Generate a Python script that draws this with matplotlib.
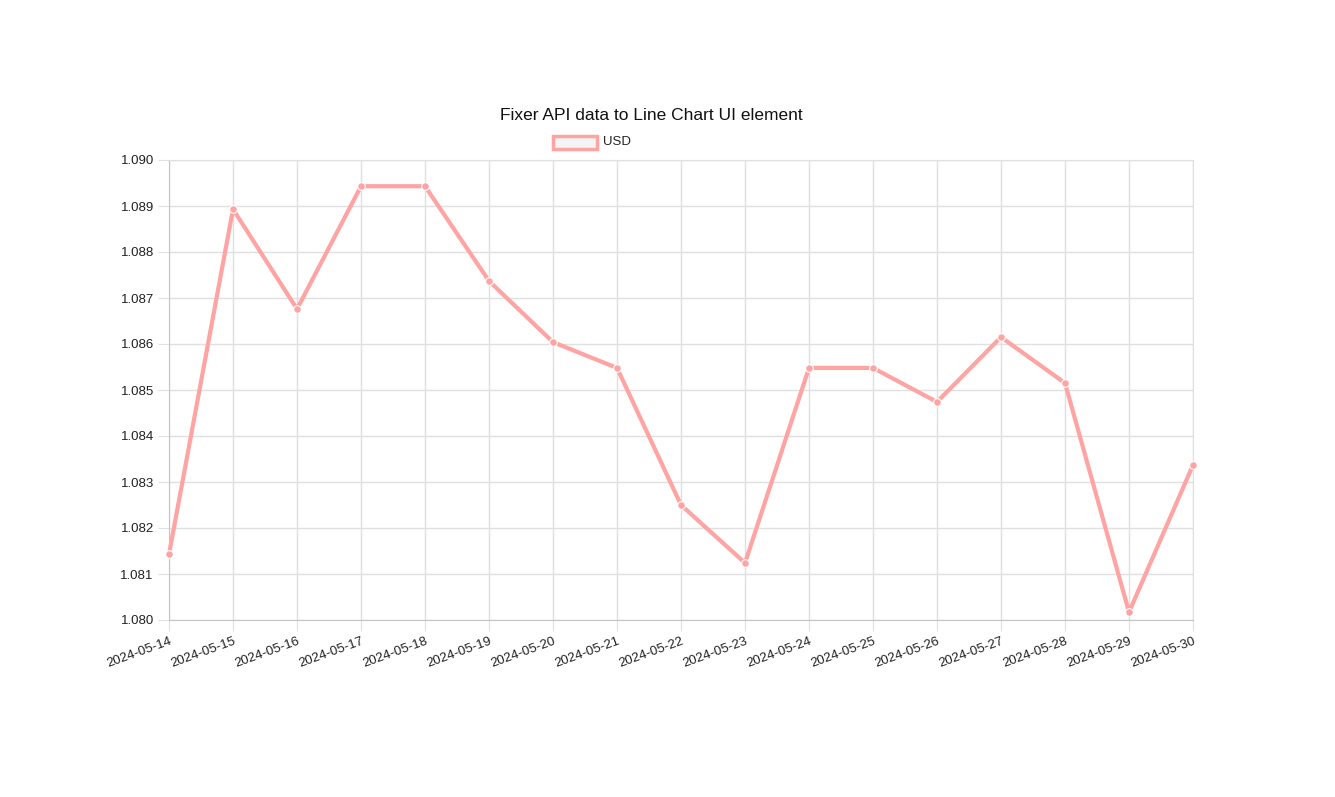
import matplotlib.pyplot as plt
from matplotlib.patches import Rectangle

# data
dates = ['2024-05-14', '2024-05-15', '2024-05-16', '2024-05-17', '2024-05-18',
         '2024-05-19', '2024-05-20', '2024-05-21', '2024-05-22', '2024-05-23',
         '2024-05-24', '2024-05-25', '2024-05-26', '2024-05-27', '2024-05-28',
         '2024-05-29', '2024-05-30']
usd = [1.08143, 1.08893, 1.08676, 1.08943, 1.08943,
       1.08737, 1.08604, 1.08548, 1.08250, 1.08124,
       1.08548, 1.08548, 1.08474, 1.08615, 1.08515,
       1.08017, 1.08337]
y_ticks = [1.080, 1.081, 1.082, 1.083, 1.084, 1.085, 1.086, 1.087, 1.088, 1.089, 1.090]

plt.rcParams['font.family'] = ['Liberation Sans', 'DejaVu Sans']
line_color = '#ffa3a3'
grid_color = '#e0e0e0'

fig = plt.figure(figsize=(13.35, 7.97), dpi=100)
ax = fig.add_axes([169 / 1335, 1 - 620 / 797, (1193 - 169) / 1335, (620 - 160) / 797])

x = list(range(len(dates)))
ax.plot(x, usd, color=line_color, linewidth=3, marker='o', markersize=5.5,
        markerfacecolor=line_color, markeredgecolor='white', markeredgewidth=0.8,
        zorder=3, clip_on=False)

ax.set_xlim(0, len(dates) - 1)
ax.set_ylim(1.080, 1.090)
ax.set_xticks(x)
ax.set_xticklabels(dates, rotation=20, ha='right', rotation_mode='anchor')
ax.set_yticks(y_ticks)
ax.set_yticklabels(['%.3f' % v for v in y_ticks])
ax.grid(True, color=grid_color, linewidth=1)
ax.set_axisbelow(True)
ax.tick_params(axis='both', length=8, color=grid_color, labelsize=9.5,
               labelcolor='#222222', pad=3)
for side in ['top', 'right']:
    ax.spines[side].set_color(grid_color)
for side in ['left', 'bottom']:
    ax.spines[side].set_color('#c4c4c4')

# title and legend
fig.text(651 / 1335, 1 - 115 / 797, 'Fixer API data to Line Chart UI element',
         ha='center', va='center', fontsize=12.5, color='#111111')
fig.add_artist(Rectangle((553 / 1335, 1 - 149 / 797), 44 / 1335, 13 / 797,
                         transform=fig.transFigure, facecolor='#f4f4f4',
                         edgecolor=line_color, linewidth=2.5))
fig.text(603 / 1335, 1 - 142 / 797, 'USD', ha='left', va='center',
         fontsize=9.5, color='#222222')

fig.savefig('out.png', dpi=100)
